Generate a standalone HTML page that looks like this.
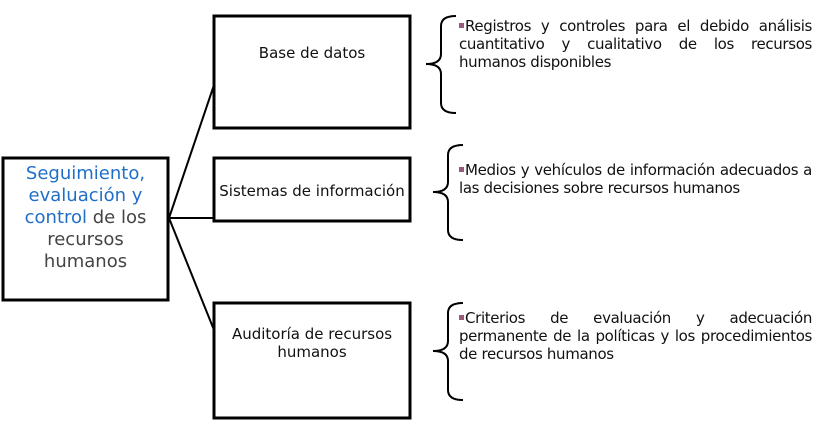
<!DOCTYPE html>
<html><head><meta charset="utf-8"><style>
body{margin:0;width:821px;height:441px;background:#fff;position:relative;overflow:hidden;font-family:"DejaVu Sans","Liberation Sans",sans-serif;}
.t{position:absolute;color:#111;}
.c{text-align:center;font-size:15px;line-height:18px;}
.r{left:459px;width:353px;font-size:15px;line-height:18px;letter-spacing:-0.35px;}
.r div{white-space:nowrap;}
.j{text-align:justify;text-align-last:justify;}
.b{display:inline-block;width:5px;height:5px;background:#9a5a7a;vertical-align:3px;margin-right:1px;}
</style></head><body>
<svg width="821" height="441" style="position:absolute;left:0;top:0">
<g fill="none" stroke="#000" stroke-width="3">
<rect x="3" y="158" width="165" height="142"/>
<rect x="214" y="16" width="196" height="112"/>
<rect x="214" y="158" width="196" height="63"/>
<rect x="214" y="303" width="196" height="115"/>
</g>
<g fill="none" stroke="#000" stroke-width="2">
<line x1="169" y1="218" x2="214" y2="85"/>
<line x1="169" y1="218" x2="214" y2="218"/>
<line x1="169" y1="218" x2="214" y2="330"/>
<path d="M456 16 Q441 16 441 26 L441 54 Q441 64 426 64 Q441 64 441 74 L441 103 Q441 113 456 113"/>
<path d="M463 145 Q448 145 448 155 L448 182 Q448 192 433 192 Q448 192 448 202 L448 230 Q448 240 463 240"/>
<path d="M463 303 Q448 303 448 313 L448 341 Q448 351 433 351 Q448 351 448 361 L448 390 Q448 400 463 400"/>
</g>
</svg>
<div class="t" style="left:3px;top:163px;width:165px;text-align:center;font-size:18px;line-height:22px;color:#444;white-space:nowrap"><span style="color:#1f6fc8">Seguimiento,<br>evaluación y<br>control</span> de los<br>recursos<br>humanos</div>
<div class="t c" style="left:214px;top:44px;width:196px">Base de datos</div>
<div class="t c" style="left:214px;top:182px;width:196px;white-space:nowrap">Sistemas de información</div>
<div class="t c" style="left:214px;top:325px;width:196px;white-space:nowrap">Auditoría de recursos<br>humanos</div>
<div class="t r" style="top:17px"><div class="j"><span class="b"></span>Registros y controles para el debido análisis</div><div class="j">cuantitativo y cualitativo de los recursos</div><div>humanos disponibles</div></div>
<div class="t r" style="top:161px"><div class="j"><span class="b"></span>Medios y vehículos de información adecuados a</div><div>las decisiones sobre recursos humanos</div></div>
<div class="t r" style="top:309px"><div class="j"><span class="b"></span>Criterios de evaluación y adecuación</div><div class="j">permanente de la políticas y los procedimientos</div><div>de recursos humanos</div></div>
</body></html>
